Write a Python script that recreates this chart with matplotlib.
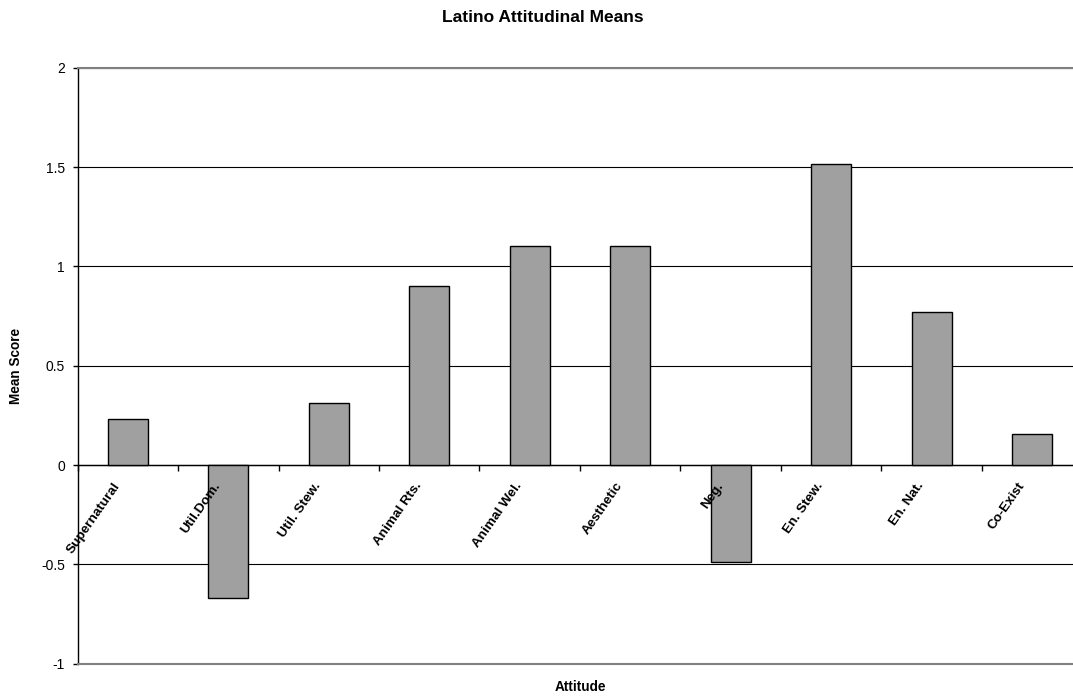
import matplotlib
matplotlib.use("Agg")
import matplotlib.pyplot as plt
import matplotlib.transforms as mtransforms
import numpy as np

plt.rcParams['font.family'] = ['Liberation Sans', 'DejaVu Sans']

attitudes = ["Supernatural", "Util.Dom.", "Util. Stew.", "Animal Rts.", "Animal Wel.",
             "Aesthetic", "Neg.", "En. Stew.", "En. Nat.", "Co-Exist"]
mean_scores = [0.232, -0.668, 0.31, 0.903, 1.102, 1.102, -0.487, 1.516, 0.772, 0.155]
y_ticks = [-1, -0.5, 0, 0.5, 1, 1.5, 2]
y_tick_labels = ["-1", "-0.5", "0", "0.5", "1", "1.5", "2"]

fig = plt.figure(figsize=(10.73, 6.96), dpi=100)
ax = fig.add_axes([77.5 / 1073, 32.3 / 696, 1005 / 1073, 596 / 696])

x = np.arange(len(attitudes))
ax.bar(x, mean_scores, width=0.4, color="#a0a0a0", edgecolor="black",
       linewidth=1.0, zorder=3)

ax.set_xlim(-0.5, len(attitudes) - 0.5)
ax.set_ylim(-1, 2)
ax.set_yticks(y_ticks)
ax.set_yticklabels(y_tick_labels, fontsize=10)
ax.tick_params(axis="y", direction="out", length=3.5, width=1, pad=5.5, colors="black")
ax.set_xticks([])
ax.grid(axis="y", color="black", linewidth=0.8, zorder=1)

for side in ("top", "bottom", "right"):
    ax.spines[side].set_color("#808080")
    ax.spines[side].set_linewidth(1.5)
ax.spines["left"].set_color("black")
ax.spines["left"].set_linewidth(1.0)

# category axis drawn at zero, with ticks between categories
zero_frac = (0 - (-1)) / (2 - (-1))
sec = ax.secondary_xaxis(zero_frac)
sec.set_xticks(np.arange(len(attitudes) + 1) - 0.5)
sec.set_xticklabels([])
sec.tick_params(direction="out", length=4, width=1, colors="black")
sec.spines["bottom"].set_color("black")
sec.spines["bottom"].set_linewidth(1.0)

# rotated category labels centred under each category
offset = mtransforms.ScaledTranslation(-15 / 100, -15 / 100, fig.dpi_scale_trans)
for xi, name in zip(x, attitudes):
    ax.text(xi, 0, name, rotation=55, ha="right", va="top",
            rotation_mode="anchor", fontsize=9.7, fontweight="bold",
            transform=ax.transData + offset, zorder=4)

fig.text(543 / 1073, 1 - 18 / 696, "Latino Attitudinal Means", ha="center",
         va="center", fontsize=12.5, fontweight="bold")
fig.text(16 / 1073, 1 - 366 / 696, "Mean Score", rotation=90, ha="center",
         va="center", fontsize=9.8, fontweight="bold")
ax.text(0.5, 1 - 687 / 696, "Attitude", ha="center", va="center",
        fontsize=9.8, fontweight="bold",
        transform=mtransforms.blended_transform_factory(ax.transAxes, fig.transFigure))

fig.savefig("out.png", dpi=100)
